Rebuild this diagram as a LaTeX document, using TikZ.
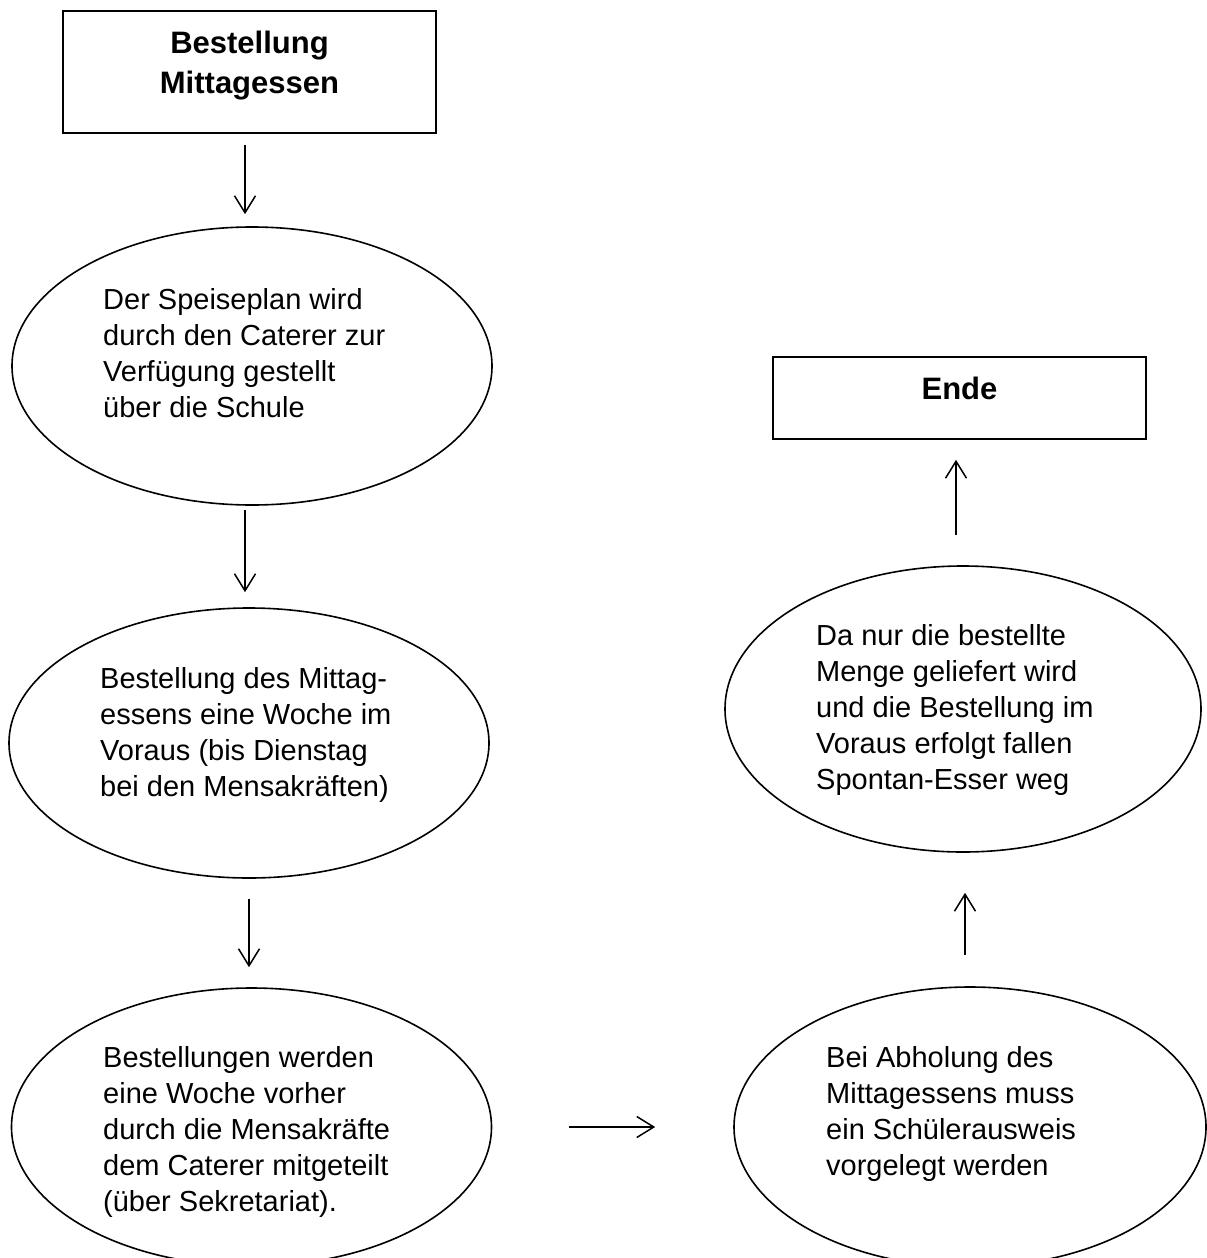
\documentclass[tikz,border=0pt]{standalone}
\usepackage{fontspec}
\setmainfont{Liberation Sans}
\usetikzlibrary{shapes.geometric,arrows.meta}
\begin{document}
\begin{tikzpicture}[x=1pt,y=-1pt,
  ell/.style={draw, line width=1.6pt, ellipse, inner sep=0pt},
  boxnode/.style={draw, line width=1.6pt, rectangle, inner sep=0pt},
  body/.style={anchor=base west, inner sep=0pt, font=\fontsize{29}{36}\selectfont},
  head/.style={anchor=base, inner sep=0pt, font=\fontsize{31}{40}\selectfont\bfseries},
  arr/.style={-{Straight Barb[length=17pt,width=21pt,line width=1.5pt]}, line width=1.3pt}
]
\clip (0,0) rectangle (1207,1258);

% boxes
\node[boxnode, minimum width=373pt, minimum height=122pt] (start) at (249.5,72) {};
\node[head] (starttxt) at (249.5,53) {\parbox[t]{360pt}{\centering Bestellung\\Mittagessen}};
\node[boxnode, minimum width=373pt, minimum height=82pt] (ende) at (959.5,398) {};
\node[head] (endetxt) at (959.5,399) {Ende};

% ellipses
\node[ell, minimum width=480pt, minimum height=278pt] (e1) at (252,366) {};
\node[ell, minimum width=480pt, minimum height=270pt] (e2) at (249,743) {};
\node[ell, minimum width=480pt, minimum height=278pt] (e3) at (251.5,1127) {};
\node[ell, minimum width=472pt, minimum height=280pt] (e4) at (970,1127) {};
\node[ell, minimum width=476pt, minimum height=286pt] (e5) at (963,709) {};

% texts
\node[body] (t1) at (103,309) {\parbox[t]{400pt}{Der Speiseplan wird\\durch den Caterer zur\\Verfügung gestellt\\über die Schule}};
\node[body] (t2) at (100,688) {\parbox[t]{400pt}{Bestellung des Mittag-\\essens eine Woche im\\Voraus (bis Dienstag\\bei den Mensakräften)}};
\node[body] (t3) at (103,1067) {\parbox[t]{400pt}{Bestellungen werden\\eine Woche vorher\\durch die Mensakräfte\\dem Caterer mitgeteilt\\(über Sekretariat).}};
\node[body] (t4) at (826,1067) {\parbox[t]{400pt}{Bei Abholung des\\Mittagessens muss\\ein Schülerausweis\\vorgelegt werden}};
\node[body] (t5) at (816,645) {\parbox[t]{400pt}{Da nur die bestellte\\Menge geliefert wird\\und die Bestellung im\\Voraus erfolgt fallen\\Spontan-Esser weg}};

% connectors
\draw[arr, shorten <=11pt, shorten >=12pt] ([xshift=-4.5pt]start.south) -- ([xshift=-7pt]e1.north);
\draw[arr, shorten <=4pt, shorten >=15pt] ([xshift=-7pt]e1.south) -- ([xshift=-4pt]e2.north);
\draw[arr, shorten <=20pt, shorten >=20pt] (e2.south) -- ([xshift=-2.5pt]e3.north);
\draw[arr, shorten <=76.5pt, shorten >=78pt] (e3.east) -- (e4.west);
\draw[arr, shorten <=31pt, shorten >=40pt] ([xshift=-5pt]e4.north) -- ([xshift=2pt]e5.south);
\draw[arr, shorten <=30pt, shorten >=20pt] ([xshift=-7pt]e5.north) -- ([xshift=-3.5pt]ende.south);
\end{tikzpicture}
\end{document}
